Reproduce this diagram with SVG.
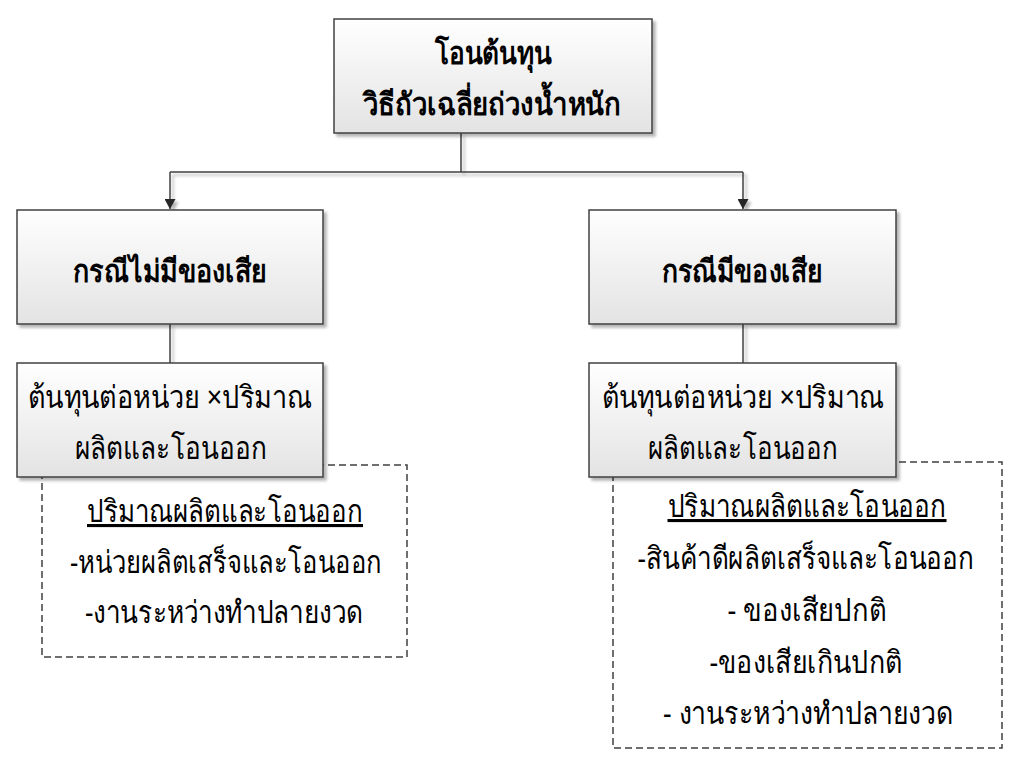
<svg xmlns="http://www.w3.org/2000/svg" width="1024" height="770" viewBox="0 0 1024 770">
<defs>
<linearGradient id="g" x1="0" y1="0" x2="0" y2="1">
<stop offset="0" stop-color="#ffffff"/>
<stop offset="1" stop-color="#e3e3e3"/>
</linearGradient>
<filter id="shd" x="-10%" y="-10%" width="125%" height="125%">
<feGaussianBlur in="SourceAlpha" stdDeviation="1.5"/>
<feOffset dx="3" dy="3" result="o"/>
<feComponentTransfer><feFuncA type="linear" slope="0.3"/></feComponentTransfer>
<feMerge><feMergeNode/><feMergeNode in="SourceGraphic"/></feMerge>
</filter>
<marker id="arr" viewBox="0 0 10 11" refX="10" refY="5.5" markerWidth="11" markerHeight="11" markerUnits="userSpaceOnUse" orient="auto">
<path d="M0,0 L10,5.5 L0,11 z" fill="#262626"/>
</marker>
<style>
.box{fill:url(#g);stroke:#404040;stroke-width:1.5}
.dash{fill:none;stroke:#404040;stroke-width:1.5;stroke-dasharray:7 4}
.t{font-family:"Noto Sans","DejaVu Sans",sans-serif;font-size:31px;fill:#000;text-anchor:middle}
.b{font-weight:bold}
.ln{fill:none;stroke:#404040;stroke-width:1.5}
</style>
</defs>
<rect width="1024" height="770" fill="#fff"/>
<g id="connectors" filter="url(#shd)">
<path class="ln" d="M461,133 V172"/>
<path class="ln" d="M170,172 H743"/>
<path class="ln" d="M170,172 V209" marker-end="url(#arr)"/>
<path class="ln" d="M743,172 V209" marker-end="url(#arr)"/>
<path class="ln" d="M170,324 V363"/>
<path class="ln" d="M743,324 V363"/>
</g>
<g id="root">
<rect class="box" x="334" y="19" width="318" height="114" filter="url(#shd)"/>
<text class="t b" x="493" y="64" textLength="117" lengthAdjust="spacingAndGlyphs">โอนต้นทุน</text>
<text class="t b" x="492" y="115" textLength="258" lengthAdjust="spacingAndGlyphs">วิธีถัวเฉลี่ยถ่วงน้ำหนัก</text>
</g>
<g id="left-case">
<rect class="box" x="17" y="210" width="306" height="114" filter="url(#shd)"/>
<text class="t b" x="170" y="282" textLength="194" lengthAdjust="spacingAndGlyphs">กรณีไม่มีของเสีย</text>
</g>
<g id="right-case">
<rect class="box" x="589" y="210" width="307" height="114" filter="url(#shd)"/>
<text class="t b" x="742" y="282" textLength="161" lengthAdjust="spacingAndGlyphs">กรณีมีของเสีย</text>
</g>
<g id="left-note">
<rect class="dash" x="42" y="465" width="365" height="192"/>
<text class="t" x="225" y="522" text-decoration="underline" textLength="276" lengthAdjust="spacingAndGlyphs">ปริมาณผลิตและโอนออก</text>
<text class="t" x="226" y="573" textLength="312" lengthAdjust="spacingAndGlyphs">-หน่วยผลิตเสร็จและโอนออก</text>
<text class="t" x="224" y="623" textLength="278" lengthAdjust="spacingAndGlyphs">-งานระหว่างทำปลายงวด</text>
</g>
<g id="right-note">
<rect class="dash" x="613" y="462" width="389" height="286"/>
<text class="t" x="807" y="517" text-decoration="underline" textLength="279" lengthAdjust="spacingAndGlyphs">ปริมาณผลิตและโอนออก</text>
<text class="t" x="806" y="569" textLength="337" lengthAdjust="spacingAndGlyphs">-สินค้าดีผลิตเสร็จและโอนออก</text>
<text class="t" x="807" y="621" textLength="159" lengthAdjust="spacingAndGlyphs">- ของเสียปกติ</text>
<text class="t" x="806" y="673" textLength="193" lengthAdjust="spacingAndGlyphs">-ของเสียเกินปกติ</text>
<text class="t" x="808" y="724" textLength="290" lengthAdjust="spacingAndGlyphs">- งานระหว่างทำปลายงวด</text>
</g>
<g id="left-formula">
<rect class="box" x="17" y="363" width="306" height="114" filter="url(#shd)"/>
<text class="t" x="170" y="408" textLength="284" lengthAdjust="spacingAndGlyphs">ต้นทุนต่อหน่วย ×ปริมาณ</text>
<text class="t" x="171" y="459" textLength="192" lengthAdjust="spacingAndGlyphs">ผลิตและโอนออก</text>
</g>
<g id="right-formula">
<rect class="box" x="589" y="363" width="307" height="114" filter="url(#shd)"/>
<text class="t" x="743" y="408" textLength="283" lengthAdjust="spacingAndGlyphs">ต้นทุนต่อหน่วย ×ปริมาณ</text>
<text class="t" x="743" y="459" textLength="190" lengthAdjust="spacingAndGlyphs">ผลิตและโอนออก</text>
</g>
</svg>
